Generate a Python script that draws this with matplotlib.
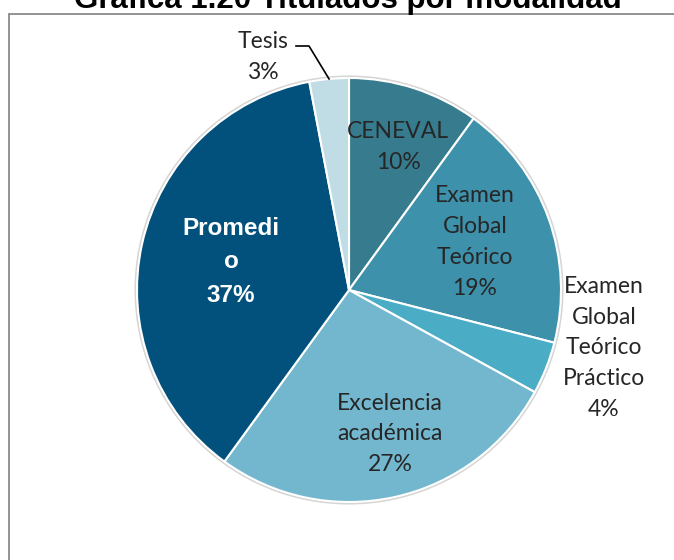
import numpy as np
import matplotlib.pyplot as plt
from matplotlib.patches import Rectangle, Circle

labels = ['CENEVAL', 'Examen\nGlobal\nTeórico', 'Examen\nGlobal\nTeórico\nPráctico',
          'Excelencia\nacadémica', 'Promedi\no', 'Tesis']
values = [10, 19, 4, 27, 37, 3]
colors = ['#367C8E', '#3E91AB', '#4BACC6', '#73B7CF', '#01517C', '#C0DCE5']

W, H = 674, 560
cx, cy, r = 349, H - 290, 212

# label centres in pixel coords (from top-left)
lab_pos = [(398, 147), (475, 242), (604, 348), (390, 434), (231, 262), (263, 57)]

fig = plt.figure(figsize=(6.74, 5.6), dpi=100)
ax = fig.add_axes([0, 0, 1, 1])

# frame
fig.patches.append(Rectangle((9 / W, -0.1), 1.2, 1.1 - 14 / H, transform=fig.transFigure,
                             fill=False, edgecolor='#8A8A8A', linewidth=1.3))

ax.add_patch(Circle((cx, cy), r + 1.5, facecolor='none', edgecolor='#D5D5D5', linewidth=1.5))
wedges, _ = ax.pie(values, colors=colors, startangle=90, counterclock=False,
                   center=(cx, cy), radius=r,
                   wedgeprops=dict(edgecolor='white', linewidth=1.5))
ax.set_xlim(0, W)
ax.set_ylim(0, H)
ax.set_aspect('equal')
ax.axis('off')

for i, (lab, v) in enumerate(zip(labels, values)):
    x, y = lab_pos[i]
    txt = f'{lab}\n{v}%'
    if lab.startswith('Promedi'):
        ax.text(x, H - y, txt, ha='center', va='center', color='white', fontsize=17.5,
                fontweight='bold', family='Liberation Sans', linespacing=1.6)
    else:
        ax.text(x, H - y, txt, ha='center', va='center', color='#262626', fontsize=16.5,
                family='Lato', linespacing=1.58)

# leader line for Tesis
frac = (sum(values[:-1]) + values[-1] / 2) / sum(values)
ang = np.deg2rad(90 - frac * 360)
ex, ey = cx + r * np.cos(ang), cy + r * np.sin(ang)
ax.plot([296, 309, ex], [H - 46, H - 46, ey], color='black', linewidth=1.2)

fig.text(348 / W, 1 - 8 / H, 'Gráfica 1.20 Titulados por modalidad', ha='center',
         va='baseline', fontsize=22.5, fontweight='bold', family='Liberation Sans')

fig.savefig('out.png', dpi=100)
